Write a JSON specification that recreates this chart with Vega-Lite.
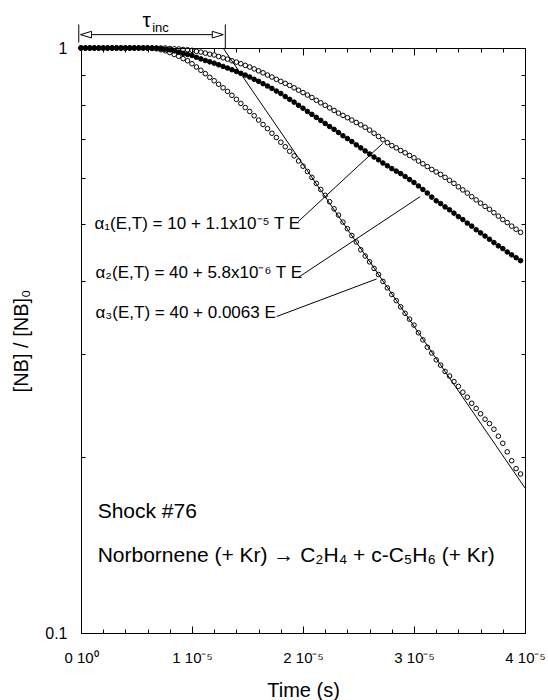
{
"$schema":"https://vega.github.io/schema/vega-lite/v6.json",
"width":444,"height":585,
"autosize":{"type":"none"},
"padding":{"left":81,"top":48,"right":23,"bottom":67},
"config":{"font":"Liberation Sans","view":{"stroke":"black","strokeWidth":1},
"axis":{"domainColor":"black","tickColor":"black","labelColor":"black","titleColor":"black","grid":false,"titleFontWeight":"normal","domainWidth":1,"tickWidth":1}},
"datasets":{
"pts":[
{"t":0,"a":1,"b":1,"c":1},{"t":0.04e-5,"a":1,"b":1,"c":1},{"t":0.08e-5,"a":1,"b":1,"c":1},{"t":0.12e-5,"a":1,"b":1,"c":1},{"t":0.16e-5,"a":1,"b":1,"c":1},{"t":0.2e-5,"a":1,"b":1,"c":1},{"t":0.24e-5,"a":1,"b":1,"c":1},{"t":0.28e-5,"a":1,"b":1,"c":1},{"t":0.32e-5,"a":1,"b":1,"c":1},{"t":0.36e-5,"a":1,"b":1,"c":1},{"t":0.4e-5,"a":1,"b":1,"c":1},{"t":0.44e-5,"a":1,"b":1,"c":1},{"t":0.48e-5,"a":1,"b":1,"c":1},{"t":0.52e-5,"a":1,"b":1,"c":1},{"t":0.56e-5,"a":1,"b":1,"c":1},{"t":0.6e-5,"a":1,"b":1,"c":1},
{"t":0.64e-5,"a":1,"b":1,"c":0.998},{"t":0.68e-5,"a":1,"b":0.999,"c":0.997},{"t":0.72e-5,"a":1,"b":0.997,"c":0.993},{"t":0.76e-5,"a":1,"b":0.995,"c":0.989},{"t":0.8e-5,"a":0.998,"b":0.993,"c":0.982},{"t":0.84e-5,"a":0.997,"b":0.989,"c":0.975},{"t":0.88e-5,"a":0.996,"b":0.984,"c":0.968},{"t":0.92e-5,"a":0.994,"b":0.979,"c":0.959},{"t":0.96e-5,"a":0.993,"b":0.975,"c":0.951},
{"t":1.0e-5,"a":0.991,"b":0.971,"c":0.940},{"t":1.04e-5,"a":0.987,"b":0.964,"c":0.928},{"t":1.08e-5,"a":0.984,"b":0.958,"c":0.916},{"t":1.12e-5,"a":0.980,"b":0.952,"c":0.904},{"t":1.16e-5,"a":0.976,"b":0.947,"c":0.891},{"t":1.2e-5,"a":0.973,"b":0.942,"c":0.879},{"t":1.24e-5,"a":0.967,"b":0.936,"c":0.867},{"t":1.28e-5,"a":0.962,"b":0.930,"c":0.855},{"t":1.32e-5,"a":0.957,"b":0.924,"c":0.843},{"t":1.36e-5,"a":0.951,"b":0.918,"c":0.830},
{"t":1.4e-5,"a":0.946,"b":0.912,"c":0.817},{"t":1.44e-5,"a":0.940,"b":0.905,"c":0.804},{"t":1.48e-5,"a":0.934,"b":0.899,"c":0.791},{"t":1.52e-5,"a":0.928,"b":0.892,"c":0.779},{"t":1.56e-5,"a":0.921,"b":0.884,"c":0.766},{"t":1.6e-5,"a":0.914,"b":0.877,"c":0.753},{"t":1.64e-5,"a":0.907,"b":0.869,"c":0.740},{"t":1.68e-5,"a":0.899,"b":0.861,"c":0.728},{"t":1.72e-5,"a":0.892,"b":0.853,"c":0.715},{"t":1.76e-5,"a":0.884,"b":0.844,"c":0.703},
{"t":1.8e-5,"a":0.877,"b":0.836,"c":0.690},{"t":1.84e-5,"a":0.870,"b":0.826,"c":0.678},{"t":1.88e-5,"a":0.863,"b":0.817,"c":0.666},{"t":1.92e-5,"a":0.855,"b":0.808,"c":0.654},{"t":1.96e-5,"a":0.847,"b":0.798,"c":0.641},{"t":2.0e-5,"a":0.839,"b":0.789,"c":0.628},{"t":2.04e-5,"a":0.831,"b":0.779,"c":0.615},{"t":2.08e-5,"a":0.823,"b":0.770,"c":0.601},{"t":2.12e-5,"a":0.814,"b":0.761,"c":0.587},{"t":2.16e-5,"a":0.806,"b":0.752,"c":0.573},
{"t":2.2e-5,"a":0.798,"b":0.743,"c":0.560},{"t":2.24e-5,"a":0.790,"b":0.734,"c":0.546},{"t":2.28e-5,"a":0.782,"b":0.726,"c":0.531},{"t":2.32e-5,"a":0.774,"b":0.717,"c":0.518},{"t":2.36e-5,"a":0.767,"b":0.708,"c":0.504},{"t":2.4e-5,"a":0.760,"b":0.700,"c":0.491},{"t":2.44e-5,"a":0.753,"b":0.692,"c":0.478},{"t":2.48e-5,"a":0.746,"b":0.683,"c":0.466},{"t":2.52e-5,"a":0.739,"b":0.675,"c":0.452},{"t":2.56e-5,"a":0.732,"b":0.667,"c":0.441},
{"t":2.6e-5,"a":0.724,"b":0.659,"c":0.431},{"t":2.64e-5,"a":0.715,"b":0.651,"c":0.420},{"t":2.68e-5,"a":0.706,"b":0.644,"c":0.410},{"t":2.72e-5,"a":0.697,"b":0.636,"c":0.399},{"t":2.76e-5,"a":0.689,"b":0.629,"c":0.389},{"t":2.8e-5,"a":0.681,"b":0.622,"c":0.379},{"t":2.84e-5,"a":0.675,"b":0.616,"c":0.370},{"t":2.88e-5,"a":0.668,"b":0.610,"c":0.361},{"t":2.92e-5,"a":0.662,"b":0.603,"c":0.352},{"t":2.96e-5,"a":0.655,"b":0.596,"c":0.344},
{"t":3.0e-5,"a":0.649,"b":0.589,"c":0.336},{"t":3.04e-5,"a":0.641,"b":0.581,"c":0.326},{"t":3.08e-5,"a":0.634,"b":0.573,"c":0.317},{"t":3.12e-5,"a":0.627,"b":0.565,"c":0.308},{"t":3.16e-5,"a":0.620,"b":0.556,"c":0.301},{"t":3.2e-5,"a":0.614,"b":0.548,"c":0.293},{"t":3.24e-5,"a":0.608,"b":0.542,"c":0.287},{"t":3.28e-5,"a":0.601,"b":0.535,"c":0.280},{"t":3.32e-5,"a":0.594,"b":0.529,"c":0.275},{"t":3.36e-5,"a":0.587,"b":0.522,"c":0.269},
{"t":3.4e-5,"a":0.579,"b":0.515,"c":0.264},{"t":3.44e-5,"a":0.572,"b":0.509,"c":0.258},{"t":3.48e-5,"a":0.565,"b":0.502,"c":0.253},{"t":3.52e-5,"a":0.557,"b":0.496,"c":0.247},{"t":3.56e-5,"a":0.550,"b":0.489,"c":0.242},{"t":3.6e-5,"a":0.543,"b":0.483,"c":0.237},{"t":3.64e-5,"a":0.536,"b":0.477,"c":0.232},{"t":3.68e-5,"a":0.530,"b":0.471,"c":0.228},{"t":3.72e-5,"a":0.523,"b":0.465,"c":0.223},{"t":3.76e-5,"a":0.516,"b":0.459,"c":0.217},
{"t":3.8e-5,"a":0.509,"b":0.454,"c":0.211},{"t":3.84e-5,"a":0.503,"b":0.448,"c":0.204},{"t":3.88e-5,"a":0.496,"b":0.443,"c":0.197},{"t":3.92e-5,"a":0.490,"b":0.438,"c":0.191},{"t":3.96e-5,"a":0.484,"b":0.433,"c":0.187}
],
"fitc":[{"t":1.28e-5,"y":1,"t2":4e-5,"y2":0.177}],
"leaders":[{"t":1.957e-5,"y":0.505,"t2":2.718e-5,"y2":0.687},{"t":1.963e-5,"y":0.406,"t2":3.055e-5,"y2":0.557},{"t":1.762e-5,"y":0.3475,"t2":2.664e-5,"y2":0.403}],
"tau":[{"t":0,"y":1.054,"t2":1.28e-5,"y2":1.054},{"t":-2e-7,"y":1.022,"t2":-2e-7,"y2":1.097},{"t":1.3e-5,"y":1.0,"t2":1.3e-5,"y2":1.097}],
"heads":[{"t":4.5e-7,"y":1.054,"dir":"left"},{"t":1.232e-5,"y":1.054,"dir":"right"}],
"taulabel":[{"t":0.591e-5,"y":1.085,"label":"τ"}],
"inclabel":[{"t":0.641e-5,"y":1.064,"label":"inc"}],
"alphas":[{"t":1.22e-6,"y":0.5,"label":"α₁(E,T) = 10 + 1.1x10⁻⁵ T E"},{"t":1.31e-6,"y":0.4125,"label":"α₂(E,T) = 40 + 5.8x10⁻⁶ T E"},{"t":1.31e-6,"y":0.3526,"label":"α₃(E,T) = 40 + 0.0063 E"}],
"notes":[{"t":1.5e-6,"y":0.1607,"label":"Shock #76"},{"t":1.5e-6,"y":0.1352,"label":"Norbornene (+ Kr) → C₂H₄ + c-C₅H₆ (+ Kr)"}]
},
"resolve":{"axis":{"x":"independent","y":"independent"}},
"layer":[
{"data":{"name":"pts"},"transform":[{"fold":["a","b","c"],"as":["series","ratio"]},{"filter":"datum.series == 'b'"}],
 "mark":{"type":"line","color":"black","strokeWidth":1},
 "encoding":{"x":{"field":"t","type":"quantitative","scale":{"domain":[0,4e-5],"nice":false,"zero":false},"axis":null},
 "y":{"field":"ratio","type":"quantitative","scale":{"type":"log","domain":[0.1,1],"nice":false},"axis":null}}},
{"data":{"name":"pts"},"transform":[{"fold":["a","b","c"],"as":["series","ratio"]}],
 "mark":{"type":"point","shape":"circle","filled":true,"stroke":"black","strokeWidth":1,"size":21,"opacity":1},
 "encoding":{"x":{"field":"t","type":"quantitative","scale":{"domain":[0,4e-5],"nice":false,"zero":false},
   "axis":{"orient":"bottom","values":[0,2e-6,4e-6,6e-6,8e-6,1e-5,1.2e-5,1.4e-5,1.6e-5,1.8e-5,2e-5,2.2e-5,2.4e-5,2.6e-5,2.8e-5,3e-5,3.2e-5,3.4e-5,3.6e-5,3.8e-5,4e-5],
   "labelExpr":"datum.value == 0 ? '0 10⁰' : (abs(datum.value*1e5 - round(datum.value*1e5)) < 1e-6 ? round(datum.value*1e5) + ' 10⁻⁵' : '')",
   "tickSize":{"condition":{"test":"abs(datum.value*1e5 - round(datum.value*1e5)) < 1e-6","value":-7},"value":-4},
   "labelPadding":24,"labelFontSize":15,"labelFlush":false,"labelOverlap":false,"labelBound":false,
   "title":"Time (s)","titleFontSize":20,"titlePadding":12}},
 "y":{"field":"ratio","type":"quantitative","scale":{"type":"log","domain":[0.1,1],"nice":false},
   "axis":{"orient":"left","values":[0.1,0.2,0.3,0.4,0.5,0.6,0.7,0.8,0.9,1],
   "labelExpr":"datum.value == 1 ? '1' : (datum.value == 0.1 ? '0.1' : '')",
   "tickSize":-4,"labelPadding":18,"labelFontSize":16,"labelOverlap":false,"labelFlush":false,"labelBound":false,
   "title":"[NB] / [NB]₀","titleFontSize":20,"titlePadding":13}},
 "fill":{"field":"series","type":"nominal","scale":{"domain":["a","b","c"],"range":["rgba(255,255,255,0)","black","rgba(255,255,255,0)"]},"legend":null}}},
{"data":{"name":"fitc"},"mark":{"type":"rule","color":"black","strokeWidth":1},
 "encoding":{"x":{"field":"t","type":"quantitative","scale":{"domain":[0,4e-5],"nice":false,"zero":false},
   "axis":{"orient":"top","values":[0,2e-6,4e-6,6e-6,8e-6,1e-5,1.2e-5,1.4e-5,1.6e-5,1.8e-5,2e-5,2.2e-5,2.4e-5,2.6e-5,2.8e-5,3e-5,3.2e-5,3.4e-5,3.6e-5,3.8e-5,4e-5],"labels":false,
   "tickSize":{"condition":{"test":"abs(datum.value*1e5 - round(datum.value*1e5)) < 1e-6","value":-7},"value":-4},"title":null}},
 "y":{"field":"y","type":"quantitative","scale":{"type":"log","domain":[0.1,1],"nice":false},
   "axis":{"orient":"right","values":[0.1,0.2,0.3,0.4,0.5,0.6,0.7,0.8,0.9,1],"labels":false,"tickSize":-4,"title":null}},
 "x2":{"field":"t2"},"y2":{"field":"y2"}}},
{"data":{"name":"leaders"},"mark":{"type":"rule","color":"black","strokeWidth":1},
 "encoding":{"x":{"field":"t","type":"quantitative","scale":{"domain":[0,4e-5],"nice":false,"zero":false},"axis":null},
 "y":{"field":"y","type":"quantitative","scale":{"type":"log","domain":[0.1,1],"nice":false},"axis":null},
 "x2":{"field":"t2"},"y2":{"field":"y2"}}},
{"data":{"name":"tau"},"mark":{"type":"rule","color":"black","strokeWidth":1},
 "encoding":{"x":{"field":"t","type":"quantitative","scale":{"domain":[0,4e-5],"nice":false,"zero":false},"axis":null},
 "y":{"field":"y","type":"quantitative","scale":{"type":"log","domain":[0.1,1],"nice":false},"axis":null},
 "x2":{"field":"t2"},"y2":{"field":"y2"}}},
{"data":{"name":"heads"},"mark":{"type":"point","filled":true,"fill":"white","stroke":"black","strokeWidth":1,"size":121,"opacity":1},
 "encoding":{"x":{"field":"t","type":"quantitative","scale":{"domain":[0,4e-5],"nice":false,"zero":false},"axis":null},
 "y":{"field":"y","type":"quantitative","scale":{"type":"log","domain":[0.1,1],"nice":false},"axis":null},
 "shape":{"field":"dir","type":"nominal","scale":{"domain":["left","right"],"range":["M -1 0 L 1 -0.6 L 1 0.6 Z","M 1 0 L -1 -0.6 L -1 0.6 Z"]},"legend":null}}},
{"data":{"name":"taulabel"},"mark":{"type":"text","fontSize":21,"align":"center","baseline":"alphabetic","color":"black"},
 "encoding":{"x":{"field":"t","type":"quantitative","scale":{"domain":[0,4e-5],"nice":false,"zero":false},"axis":null},
 "y":{"field":"y","type":"quantitative","scale":{"type":"log","domain":[0.1,1],"nice":false},"axis":null},
 "text":{"field":"label"}}},
{"data":{"name":"inclabel"},"mark":{"type":"text","fontSize":13,"align":"left","baseline":"alphabetic","color":"black"},
 "encoding":{"x":{"field":"t","type":"quantitative","scale":{"domain":[0,4e-5],"nice":false,"zero":false},"axis":null},
 "y":{"field":"y","type":"quantitative","scale":{"type":"log","domain":[0.1,1],"nice":false},"axis":null},
 "text":{"field":"label"}}},
{"data":{"name":"alphas"},"mark":{"type":"text","fontSize":17,"align":"left","baseline":"middle","color":"black"},
 "encoding":{"x":{"field":"t","type":"quantitative","scale":{"domain":[0,4e-5],"nice":false,"zero":false},"axis":null},
 "y":{"field":"y","type":"quantitative","scale":{"type":"log","domain":[0.1,1],"nice":false},"axis":null},
 "text":{"field":"label"}}},
{"data":{"name":"notes"},"mark":{"type":"text","fontSize":21,"align":"left","baseline":"middle","color":"black"},
 "encoding":{"x":{"field":"t","type":"quantitative","scale":{"domain":[0,4e-5],"nice":false,"zero":false},"axis":null},
 "y":{"field":"y","type":"quantitative","scale":{"type":"log","domain":[0.1,1],"nice":false},"axis":null},
 "text":{"field":"label"}}}
]
}
